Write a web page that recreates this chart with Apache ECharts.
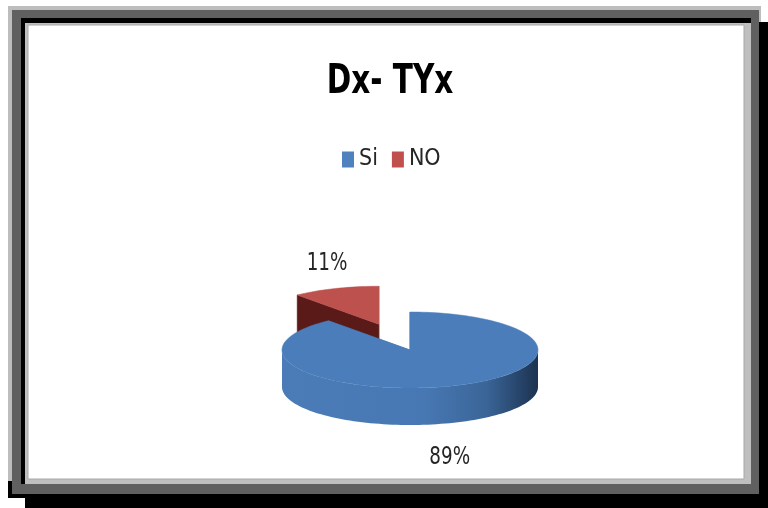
<!DOCTYPE html>
<html>
<head>
<meta charset="utf-8">
<title>Dx- TYx</title>
<script src="https://cdn.jsdelivr.net/npm/echarts@6/dist/echarts.min.js"></script>
<style>
  html, body { margin: 0; padding: 0; background: #ffffff; }
  #chart { width: 768px; height: 508px; }
</style>
</head>
<body>
<div id="chart"></div>
<script>
// Chart data
const chartTitle = 'Dx- TYx';
const categories = ['Si', 'NO'];
const shares = [89, 11];           // percent of answers
const explodeRatio = [0, 0.72];    // how far each slice is pulled out of the pie

// Excel-2007-like palette per slice
const palette = [
  { legend: '#4f81bd', top: '#4a7dba', radial: '#3b6699',
    wall: ['#4b7cb8', '#4878b3', '#3a6598', '#1c3250'] },
  { legend: '#c0504d', top: '#bd514e', radial: '#5a1a18',
    wall: ['#8e3331', '#7a2a28', '#5e1d1b', '#3e0f0e'] }
];

// 3-D pie geometry (pixels): centre of top face, radii of the ellipse, wall height
const PIE = { cx: 410, cy: 350, rx: 128, ry: 38, depth: 37 };
const FONT = "'Liberation Sans Narrow', 'DejaVu Sans Condensed', sans-serif";
const NARROW = 0.85;   // horizontal squeeze for the condensed look of the text

const rad = d => d * Math.PI / 180;
const sind = d => Math.sin(rad(d));
const cosd = d => Math.cos(rad(d));

function arcPoints(pt, from, to, dz) {
  const pts = [];
  const steps = Math.max(2, Math.ceil((to - from) / 2));
  for (let k = 0; k <= steps; k++) pts.push(pt(from + (to - from) * k / steps, dz));
  return pts;
}

function makeRender(i) {
  return function (params, api) {
    const total = shares.reduce((a, b) => a + b, 0);
    const before = shares.slice(0, i).reduce((a, b) => a + b, 0);
    const v = api.value(0);
    // angles clockwise from 12 o'clock
    const a0 = before / total * 360;
    const a1 = (before + v) / total * 360;
    const mid = (a0 + a1) / 2;
    const ex = explodeRatio[i];
    const cx = PIE.cx + ex * PIE.rx * sind(mid);
    const cy = PIE.cy - ex * PIE.ry * cosd(mid);
    const D = PIE.depth;
    const pt = (t, dz) => [cx + PIE.rx * sind(t), cy - PIE.ry * cosd(t) + (dz || 0)];
    const col = palette[i];
    const children = [];

    // radial cut faces
    [a0, a1].forEach(function (t) {
      children.push({
        type: 'polygon',
        shape: { points: [[cx, cy], pt(t), pt(t, D), [cx, cy + D]] },
        style: { fill: col.radial, stroke: col.radial, lineWidth: 0.5 }
      });
    });

    // outer wall, front half only
    const s = Math.max(a0, 90), e = Math.min(a1, 270);
    if (e > s) {
      const upper = arcPoints(pt, s, e, 0);
      const lower = arcPoints(pt, s, e, D).reverse();
      children.push({
        type: 'polygon',
        shape: { points: upper.concat(lower) },
        style: {
          fill: {
            type: 'linear', x: cx - PIE.rx, y: 0, x2: cx + PIE.rx, y2: 0, global: true,
            colorStops: [
              { offset: 0, color: col.wall[0] },
              { offset: 0.55, color: col.wall[1] },
              { offset: 0.8, color: col.wall[2] },
              { offset: 1, color: col.wall[3] }
            ]
          }
        }
      });
    }

    // top face
    children.push({
      type: 'polygon',
      shape: { points: [[cx, cy]].concat(arcPoints(pt, a0, a1, 0)) },
      style: { fill: col.top, stroke: col.top, lineWidth: 0.5 }
    });

    // percentage label outside the slice
    const front = cosd(mid) < 0;
    const rim = pt(mid, front ? D : 0);
    children.push({
      type: 'text',
      x: rim[0] + sind(mid) * 10 - (front ? 7 : 5),
      y: rim[1] - cosd(mid) * 30 + (front ? 7 : 3),
      scaleX: NARROW,
      style: {
        x: 0, y: 0,
        text: v + '%', fill: '#262626', font: '24px ' + FONT,
        textAlign: 'center', textVerticalAlign: 'middle'
      }
    });

    return { type: 'group', children: children };
  };
}

// Picture-frame border drawn around the chart
const frame = [
  { x: 25, y: 22, w: 743, h: 486, c: '#000000' },
  { x: 8, y: 470, w: 30, h: 28, c: '#000000' },
  { x: 8, y: 6, w: 753, h: 16, c: '#bdbdbd' },
  { x: 8, y: 6, w: 4, h: 475, c: '#bdbdbd' },
  { x: 12, y: 10, w: 747, h: 484, c: '#606060' },
  { x: 21, y: 18, w: 730, h: 466, c: '#000000' },
  { x: 25, y: 23, w: 726, h: 461, c: '#bfbfbf' }
].map(r => ({
  type: 'rect', silent: true, z: -10,
  shape: { x: r.x, y: r.y, width: r.w, height: r.h },
  style: { fill: r.c }
}));
frame.push({
  type: 'rect', silent: true, z: -10,
  shape: { x: 28, y: 25, width: 716, height: 454 },
  style: { fill: '#ffffff', stroke: '#a8a8a8', lineWidth: 1 }
});

// Chart title, squeezed horizontally like a condensed face
frame.push({
  type: 'text', silent: true, z: 5,
  x: 390, y: 82, scaleX: 0.8,
  style: {
    x: 0, y: 0,
    text: chartTitle, fill: '#000000',
    font: 'bold 41px ' + FONT,
    textAlign: 'center', textVerticalAlign: 'middle'
  }
});

const chart = echarts.init(document.getElementById('chart'), null, { renderer: 'canvas' });
chart.setOption({
  backgroundColor: '#ffffff',
  animation: false,
  color: palette.map(p => p.legend),
  legend: {
    data: categories,
    left: 337, top: 143,
    icon: 'rect', itemWidth: 12, itemHeight: 16, itemGap: 14,
    textStyle: { fontFamily: FONT, fontSize: 23, color: '#262626' }
  },
  graphic: frame,
  series: categories.map((name, i) => ({
    type: 'custom',
    name: name,
    coordinateSystem: 'none',
    silent: true,
    z: 10 - i,
    itemStyle: { color: palette[i].legend },
    data: [shares[i]],
    renderItem: makeRender(i)
  }))
});
</script>
</body>
</html>
